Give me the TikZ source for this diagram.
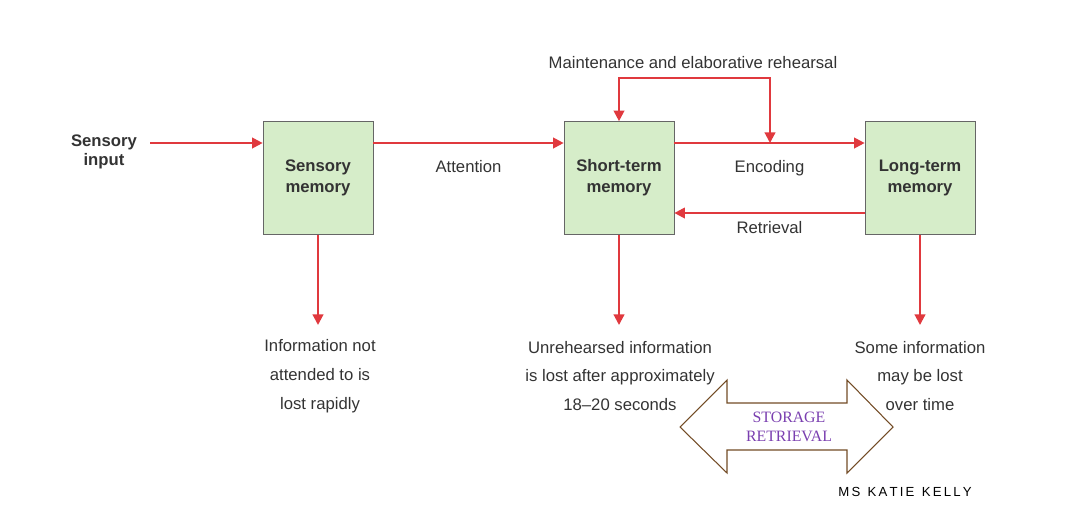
\documentclass[tikz,border=0pt]{standalone}
\usepackage{fontspec}
\setmainfont{Liberation Sans}
\newfontfamily\serifface{Liberation Serif}
\usetikzlibrary{arrows.meta}
\definecolor{boxgreen}{HTML}{D6EDC9}
\definecolor{arrowred}{HTML}{E0393E}
\definecolor{txtgray}{HTML}{333333}
\definecolor{storepurple}{HTML}{7A3FB0}
\tikzset{
  membox/.style={draw=gray!80!black, fill=boxgreen, minimum width=2.2cm, minimum height=2.26cm,
    align=center, font=\bfseries\fontsize{9.5}{12}\selectfont, text=txtgray},
  flow/.style={draw=arrowred, line width=1.2pt, -{Triangle[length=6pt,width=6pt]}},
  lbl/.style={align=center, text=txtgray, font=\fontsize{9.5}{16.4}\selectfont}
}
\begin{document}
\begin{tikzpicture}[x=0.02cm, y=-0.02cm]
        \useasboundingbox (0,0) rectangle (1074,518);

        % Boxes
        \node[membox] (sens) at (318,178) {Sensory\\memory};
        \node[membox] (stm) at (619,178) {Short-term\\memory};
        \node[membox] (ltm) at (920,178) {Long-term\\memory};
        \node[lbl, font=\bfseries\fontsize{9.5}{11}\selectfont] (input) at (104,152) {Sensory\\input};

        % Points for arrows
        \coordinate (inend) at (150,143);
        \coordinate (enc) at (770,143);
        \coordinate (top) at (695,78);

        % Arrows
        \draw[flow] (inend) -- (sens.west |- inend);
        \draw[flow] (sens.east |- inend) -- node[lbl, below=6pt] {Attention} (stm.west |- inend);
        \draw[flow] (stm.east |- inend) -- node[lbl, below=6pt] {Encoding} (ltm.west |- inend);
        \draw[flow] (ltm.west |- 0,213) -- node[lbl, below=1pt] {Retrieval} (stm.east |- 0,213);
        \draw[flow, {Triangle[length=6pt,width=6pt]}-{Triangle[length=6pt,width=6pt]}]
            (stm.north) -- (stm.north |- top) -- (enc |- top) -- (enc);
        \node[lbl] (rehearse) at (693,63) {Maintenance and elaborative rehearsal};

        % Down arrows and texts
        \node[lbl] (lost1) at (320,376) {Information not\\attended to is\\lost rapidly};
        \node[lbl] (lost2) at (620,376) {Unrehearsed information\\is lost after approximately\\18--20 seconds};
        \node[lbl] (lost3) at (920,376) {Some information\\may be lost\\over time};
        \draw[flow] (sens.south) -- (sens.south |- 0,325);
        \draw[flow] (stm.south) -- (stm.south |- 0,325);
        \draw[flow] (ltm.south) -- (ltm.south |- 0,325);

        % Storage / retrieval arrow
        \draw[draw=brown!60!black, fill=white, line width=0.6pt]
            (680,427) -- (727,380) -- (727,403) -- (847,403) -- (847,380) -- (893,427)
            -- (847,473) -- (847,450) -- (727,450) -- (727,473) -- cycle;
        \node[align=center, text=storepurple, font=\serifface\fontsize{9}{10.5}\selectfont] (store) at (789,427) {STORAGE\\RETRIEVAL};

        \node[font=\fontsize{7.5}{9}\selectfont] (credit) at (905,492) {M\,S\ \ K\,A\,T\,I\,E\ \ K\,E\,L\,L\,Y};
\end{tikzpicture}
\end{document}
